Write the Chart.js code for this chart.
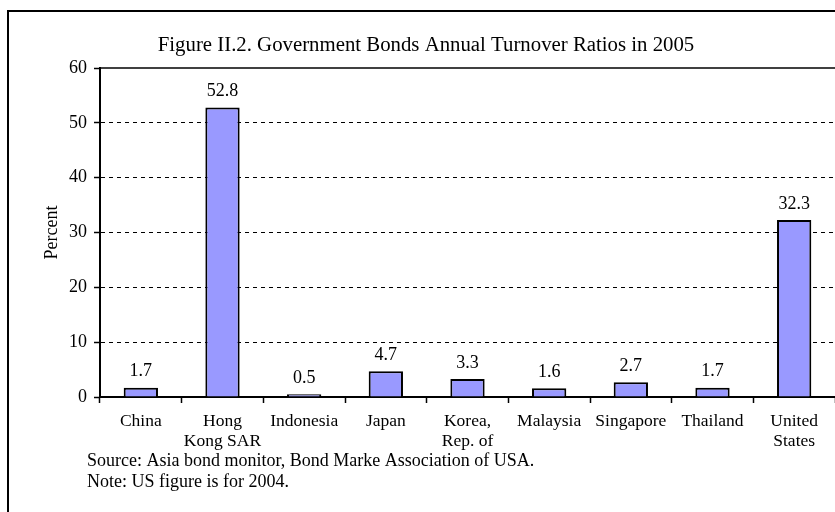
<!DOCTYPE html>
<html>
<head>
<meta charset="utf-8">
<script src="https://cdn.jsdelivr.net/npm/chart.js@4"></script>
<style>
html,body{margin:0;padding:0;background:#fff;}
canvas{display:block;}
</style>
</head>
<body>
<canvas id="c" width="835" height="512"></canvas>
<script>
const categories = ["China", ["Hong", "Kong SAR"], "Indonesia", "Japan", ["Korea,", "Rep. of"], "Malaysia", "Singapore", "Thailand", ["United", "States"]];
const turnover = [1.7, 52.8, 0.5, 4.7, 3.3, 1.6, 2.7, 1.7, 32.3];
const yTicks = [0, 10, 20, 30, 40, 50, 60];
const titleText = "Figure II.2. Government Bonds Annual Turnover Ratios in 2005";
const notes = ["Source: Asia bond monitor, Bond Marke Association of USA.", "Note: US figure is for 2004."];

const FONT = '"Liberation Serif", "Times New Roman", serif';

const decor = {
  id: 'decor',
  beforeDraw(chart) {
    const ctx = chart.ctx;
    ctx.save();
    ctx.fillStyle = '#fff';
    ctx.fillRect(0, 0, chart.width, chart.height);
    ctx.restore();
  },
  afterDraw(chart) {
    const ctx = chart.ctx;
    const a = chart.chartArea;
    ctx.save();
    // outer frame
    ctx.strokeStyle = '#000';
    ctx.lineWidth = 2;
    ctx.strokeRect(8, 11, 900, 600);
    // top plot border
    ctx.lineWidth = 1.5;
    ctx.beginPath();
    ctx.moveTo(a.left, a.top);
    ctx.lineTo(a.right, a.top);
    ctx.stroke();
    // title
    ctx.fillStyle = '#000';
    ctx.font = '20.8px ' + FONT;
    ctx.textAlign = 'center';
    ctx.textBaseline = 'middle';
    ctx.fillText(titleText, 426, 46);
    // data labels
    ctx.font = '18px ' + FONT;
    const meta = chart.getDatasetMeta(0);
    meta.data.forEach((bar, i) => {
      ctx.fillText(String(turnover[i].toFixed(1)), bar.x, bar.y - 16);
    });
    // notes
    ctx.textAlign = 'left';
    notes.forEach((t, i) => ctx.fillText(t, 87, 461 + i * 21));
    ctx.restore();
  }
};

new Chart(document.getElementById('c'), {
  type: 'bar',
  data: {
    labels: categories,
    datasets: [{
      data: turnover,
      backgroundColor: '#9999FF',
      borderColor: '#000',
      borderWidth: 2,
      categoryPercentage: 1,
      barPercentage: 0.42
    }]
  },
  options: {
    responsive: false,
    animation: false,
    layout: { padding: { top: 68, right: 0, bottom: 0, left: 0 } },
    plugins: { legend: { display: false }, tooltip: { enabled: false }, title: { display: false } },
    scales: {
      x: {
        afterFit(s) { s.height = 115; },
        grid: { offset: true, drawOnChartArea: false, tickLength: 6, tickColor: '#000', tickWidth: 1.5 },
        border: { color: '#000', width: 2 },
        ticks: { color: '#000', font: { family: FONT, size: 17.5, lineHeight: '20px' }, padding: 8, maxRotation: 0, autoSkip: false }
      },
      y: {
        min: 0, max: 60,
        afterFit(s) { s.width = 100; },
        afterBuildTicks(s) { s.ticks = yTicks.map(v => ({ value: v })); },
        grid: {
          color: c => (c.tick && (c.tick.value === 0 || c.tick.value === 60)) ? 'rgba(0,0,0,0)' : '#000',
          lineWidth: 1,
          tickLength: 6, tickColor: '#000', tickWidth: 1.5, tickBorderDash: []
        },
        border: { color: '#000', width: 2, dash: [4, 4] },
        ticks: { color: '#000', font: { family: FONT, size: 18 }, padding: 7 },
        title: { display: true, text: 'Percent', color: '#000', font: { family: FONT, size: 18, lineHeight: 1.2 }, padding: { top: 41, bottom: 0 } }
      }
    }
  },
  plugins: [decor]
});
</script>
</body>
</html>
